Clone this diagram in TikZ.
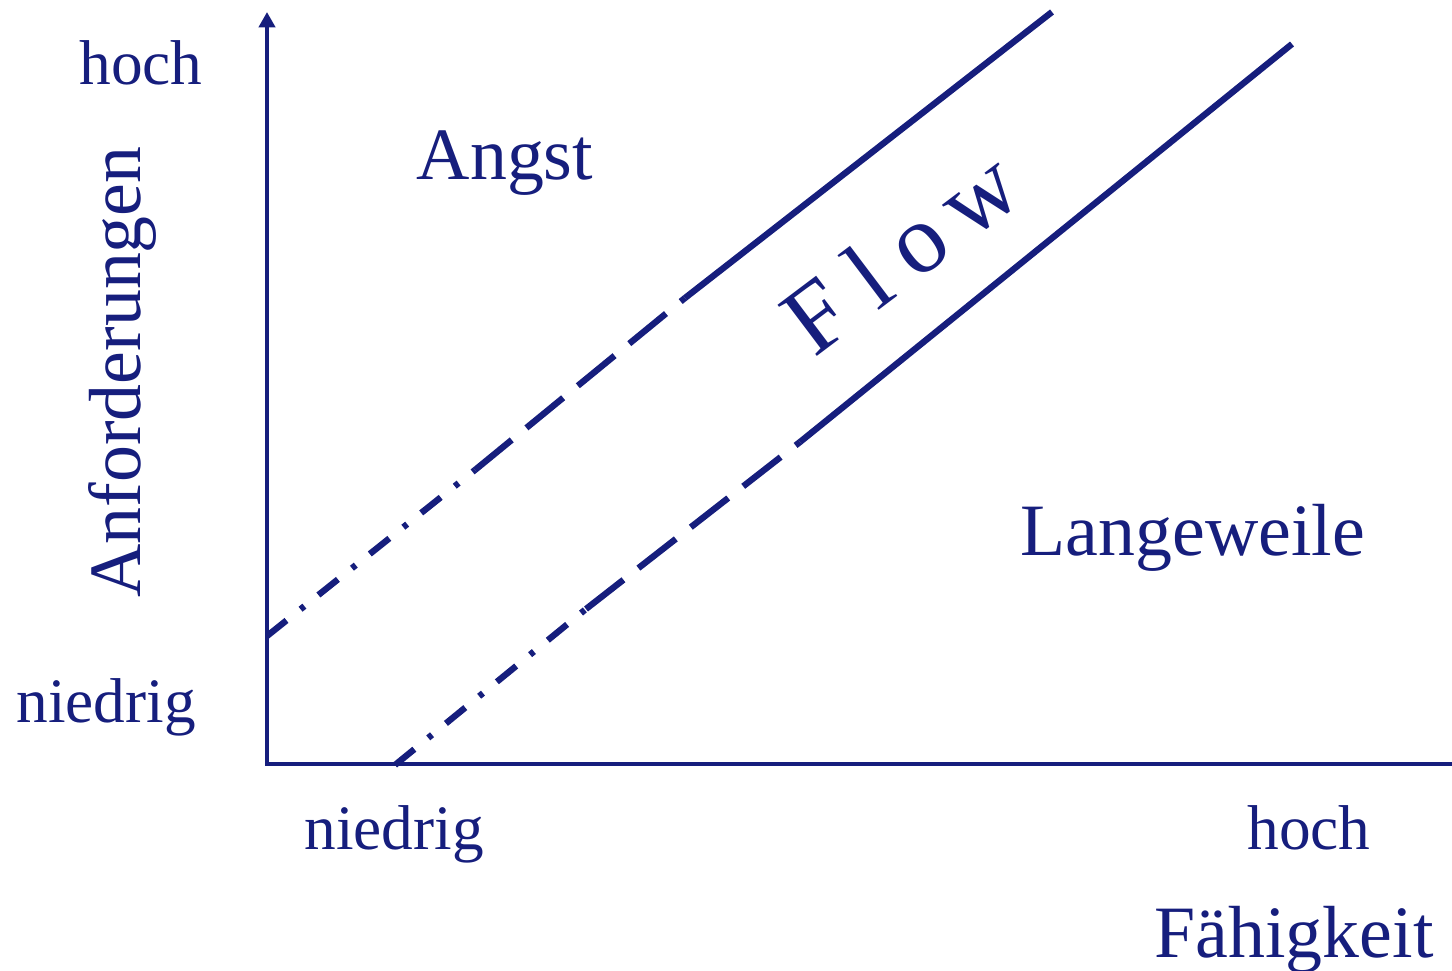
\documentclass[tikz,border=0pt]{standalone}
\usepackage{fontspec}
\setmainfont{Liberation Serif}
\usetikzlibrary{arrows.meta}
\definecolor{navy}{RGB}{22,30,125}
\tikzset{
  axisline/.style={draw=navy,line width=1.15pt},
  bandline/.style={draw=navy,line width=1.8pt},
  dashdotline/.style={bandline,dash pattern=on 7.1pt off 5.1pt on 1.4pt off 5.1pt},
  dashline/.style={bandline,dash pattern=on 13.5pt off 5.4pt},
  lbl/.style={text=navy,inner sep=0pt,anchor=base},
}
\begin{document}
\begin{tikzpicture}[x=0.01cm,y=-0.01cm]
\useasboundingbox (0,0) rectangle (1452,971);
% axes
\coordinate (O) at (267,765);
\coordinate (Ytop) at (267,12);
\coordinate (Xend) at (1452,765);
\draw[axisline,-{Triangle[length=4.4pt,width=4.6pt]}] (O) -- (Ytop);
\draw[axisline] (265.4,764) -- (Xend |- 0,764);
% upper boundary line
\coordinate (U0) at (267,636);
\coordinate (U1) at (475,470);
\coordinate (U2) at (685,298);
\coordinate (U3) at (1052,12);
\draw[dashdotline] (U0) -- (U1);
\draw[dashline] (U1) -- (U2);
\draw[bandline] (U2) -- (U3);
% lower boundary line
\coordinate (L0) at (395,765);
\coordinate (L1) at (586,609);
\coordinate (L2) at (800,442);
\coordinate (L3) at (1292,44);
\draw[dashdotline] (L0) -- (L1);
\draw[dashline] (L1) -- (L2);
\draw[bandline] (L2) -- (L3);
% labels
\node[lbl,font=\fontsize{18}{20}\selectfont] (yhoch) at (141,85) {hoch};
\node[lbl,font=\fontsize{18}{20}\selectfont] (yniedrig) at (106,723) {niedrig};
\node[lbl,font=\fontsize{18}{20}\selectfont] (xniedrig) at (394,850) {niedrig};
\node[lbl,font=\fontsize{18}{20}\selectfont] (xhoch) at (1309,850) {hoch};
\node[lbl,font=\fontsize{21}{24}\selectfont] (xtitle) at (1294,958) {Fähigkeit};
\node[lbl,font=\fontsize{21}{24}\selectfont,rotate=90] (ytitle) at (140,372) {Anforderungen};
\node[lbl,font=\fontsize{21}{24}\selectfont] (angst) at (505,180) {Angst};
\node[lbl,font=\fontsize{21}{24}\selectfont] (lang) at (1193,556) {Langeweile};
\node[text=navy,inner sep=0pt,font=\fontsize{28}{30}\selectfont,rotate=37] (flow) at (900,252) {F\kern7pt l\kern6pt o\kern5pt w};
\end{tikzpicture}
\end{document}
